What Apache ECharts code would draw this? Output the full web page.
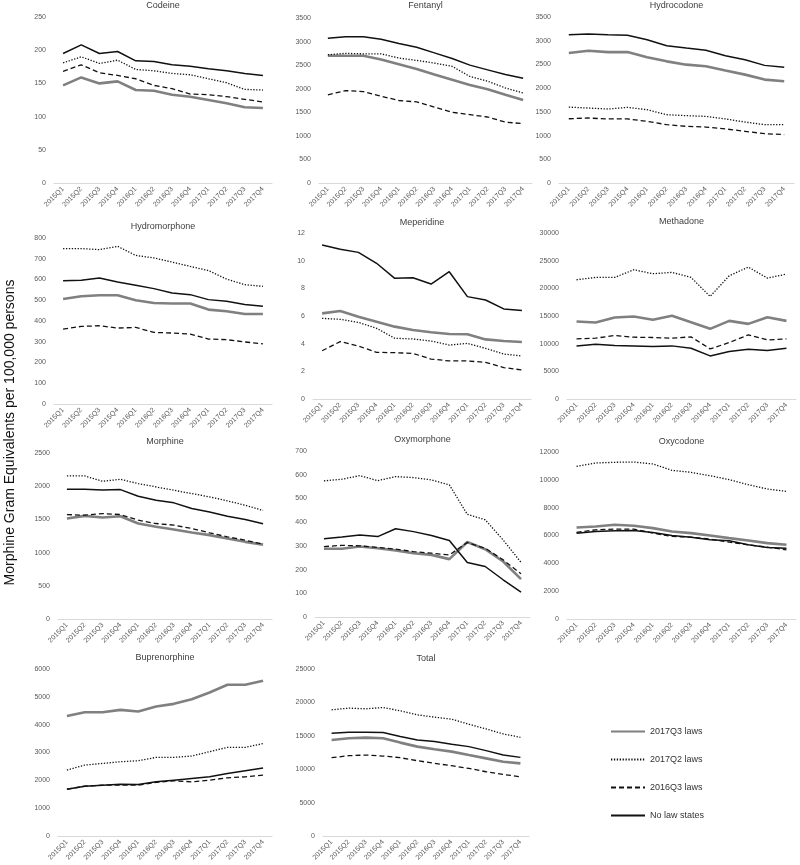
<!DOCTYPE html>
<html>
<head>
<meta charset="utf-8">
<script src="https://cdn.jsdelivr.net/npm/echarts@6/dist/echarts.min.js"></script>
<style>html,body{margin:0;padding:0;background:#fff}#c{width:800px;height:865px}</style>
</head>
<body>
<div id="c"></div>
<script>
const quarters = ['2015Q1','2015Q2','2015Q3','2015Q4','2016Q1','2016Q2','2016Q3','2016Q4','2017Q1','2017Q2','2017Q3','2017Q4'];
const seriesNames = ['2017Q3 laws','2017Q2 laws','2016Q3 laws','No law states'];
const yAxisTitle = 'Morphine Gram Equivalents per 100,000 persons';

const codeineQ3 = [147,159,150,153,140,139,133,130,125,120,114,113];
const codeineQ2 = [181,190,180,185,171,169,165,163,157,151,141,140];
const codeine16 = [168,178,166,162,157,147,142,134,133,130,126,122];
const codeineNo = [195,208,195,198,184,183,178,176,172,169,165,162];

const fentanylQ3 = [2700,2700,2700,2620,2520,2420,2300,2190,2080,1990,1870,1760];
const fentanylQ2 = [2720,2750,2740,2740,2650,2600,2545,2475,2260,2160,2015,1910];
const fentanyl16 = [1870,1960,1940,1840,1750,1720,1610,1500,1450,1400,1290,1260];
const fentanylNo = [3070,3100,3100,3050,2960,2880,2760,2640,2500,2400,2300,2220];

const hydrocodoneQ3 = [2740,2790,2760,2760,2650,2565,2495,2460,2370,2285,2180,2145];
const hydrocodoneQ2 = [1600,1580,1560,1595,1545,1440,1420,1405,1350,1285,1230,1230];
const hydrocodone16 = [1355,1370,1350,1350,1300,1230,1195,1180,1140,1090,1040,1020];
const hydrocodoneNo = [3125,3140,3125,3115,3020,2895,2845,2800,2685,2600,2480,2440];

const hydromorphoneQ3 = [506,519,524,524,500,487,484,484,455,447,434,434];
const hydromorphoneQ2 = [749,749,744,760,716,704,684,663,643,602,575,567];
const hydromorphone16 = [361,374,377,366,369,345,342,337,313,310,299,290];
const hydromorphoneNo = [594,596,607,588,572,556,535,527,503,495,479,471];

const meperidineQ3 = [6.19,6.36,5.95,5.59,5.23,4.99,4.82,4.70,4.68,4.31,4.19,4.12];
const meperidineQ2 = [5.83,5.76,5.54,5.11,4.39,4.34,4.19,3.90,4.02,3.66,3.25,3.11];
const meperidine16 = [3.49,4.15,3.83,3.37,3.35,3.30,2.89,2.75,2.75,2.65,2.27,2.10];
const meperidineNo = [11.13,10.82,10.60,9.81,8.72,8.77,8.31,9.20,7.40,7.16,6.51,6.39];

const methadoneQ3 = [14000,13820,14730,14910,14310,15030,13880,12680,14120,13580,14790,14120];
const methadoneQ2 = [21550,21970,21970,23360,22640,22880,21970,18530,22270,23840,21850,22570];
const methadone16 = [10860,10990,11470,11170,11110,10990,11230,9050,10200,11590,10680,10860];
const methadoneNo = [9600,9900,9660,9600,9480,9600,9180,7790,8570,8990,8750,9180];

const morphineQ3 = [1513,1553,1528,1548,1438,1388,1348,1303,1263,1212,1162,1120];
const morphineQ2 = [2154,2154,2074,2104,2039,1989,1939,1889,1839,1779,1713,1635];
const morphine16 = [1573,1563,1588,1573,1488,1438,1413,1363,1298,1237,1187,1125];
const morphineNo = [1954,1954,1944,1949,1849,1789,1749,1663,1613,1548,1498,1435];

const oxymorphoneQ3 = [288,288,297,290,281,269,262,244,316,286,234,160];
const oxymorphoneQ2 = [574,581,596,575,592,588,578,557,433,410,325,230];
const oxymorphone16 = [297,302,300,293,286,276,269,262,314,290,241,182];
const oxymorphoneNo = [330,337,346,339,372,360,344,323,230,213,157,105];

const oxycodoneQ3 = [6580,6650,6770,6700,6530,6290,6170,6000,5810,5640,5450,5330];
const oxycodoneQ2 = [10970,11210,11260,11280,11140,10680,10540,10300,10010,9650,9340,9170];
const oxycodone16 = [6220,6410,6460,6460,6170,5930,5880,5740,5520,5330,5160,4970];
const oxycodoneNo = [6170,6290,6340,6360,6220,6000,5880,5690,5620,5330,5140,5090];

const buprenorphineQ3 = [4315,4447,4447,4531,4471,4652,4748,4916,5157,5433,5433,5580];
const buprenorphineQ2 = [2368,2548,2608,2668,2705,2825,2825,2873,3029,3185,3185,3320];
const buprenorphine16 = [1683,1791,1827,1827,1827,1923,1983,1947,2007,2091,2127,2190];
const buprenorphineNo = [1683,1791,1827,1863,1851,1947,2007,2067,2127,2248,2344,2440];

const totalQ3 = [14380,14630,14730,14630,13980,13380,12980,12630,12120,11620,11120,10870];
const totalQ2 = [18890,19140,19040,19240,18740,18140,17790,17490,16730,16030,15280,14780];
const total16 = [11720,12020,12120,11970,11720,11270,10870,10520,10120,9620,9220,8870];
const totalNo = [15380,15530,15530,15480,14880,14380,14130,13730,13380,12780,12120,11770];

const panelTitles = ['Codeine','Fentanyl','Hydrocodone','Hydromorphone','Meperidine','Methadone','Morphine','Oxymorphone','Oxycodone','Buprenorphine','Total'];
const panelMax = [250,3500,3500,800,12,30000,2500,700,12000,6000,25000];
const panelInterval = [50,500,500,100,2,5000,500,100,2000,1000,5000];
const panelData = [
  [codeineQ3,codeineQ2,codeine16,codeineNo],
  [fentanylQ3,fentanylQ2,fentanyl16,fentanylNo],
  [hydrocodoneQ3,hydrocodoneQ2,hydrocodone16,hydrocodoneNo],
  [hydromorphoneQ3,hydromorphoneQ2,hydromorphone16,hydromorphoneNo],
  [meperidineQ3,meperidineQ2,meperidine16,meperidineNo],
  [methadoneQ3,methadoneQ2,methadone16,methadoneNo],
  [morphineQ3,morphineQ2,morphine16,morphineNo],
  [oxymorphoneQ3,oxymorphoneQ2,oxymorphone16,oxymorphoneNo],
  [oxycodoneQ3,oxycodoneQ2,oxycodone16,oxycodoneNo],
  [buprenorphineQ3,buprenorphineQ2,buprenorphine16,buprenorphineNo],
  [totalQ3,totalQ2,total16,totalNo]
];

// layout (pixels)
const grids = [
  {left:54, top:17, width:218, height:166},
  {left:319, top:18, width:213, height:165},
  {left:559, top:17, width:235, height:166},
  {left:54, top:238, width:218, height:166},
  {left:313, top:233, width:218, height:166},
  {left:567, top:233, width:229, height:166},
  {left:58, top:453, width:214, height:166},
  {left:315, top:451, width:215, height:166},
  {left:567, top:452, width:229, height:167},
  {left:58, top:669, width:214, height:167},
  {left:323, top:669, width:206, height:167}
];
const titleY = [1,1,1,222,218,217,437,435,437,653,654];

const styles = [
  {color:'#808080', width:2.6, type:'solid'},
  {color:'#111', width:1.3, type:[1.3,1.6]},
  {color:'#111', width:1.3, type:[5,3]},
  {color:'#111', width:1.5, type:'solid'}
];

const FONT = 'Liberation Sans, Arial, sans-serif';
const option = {
  animation:false,
  backgroundColor:'#fff',
  textStyle:{fontFamily:FONT},
  title:[], grid:[], xAxis:[], yAxis:[], series:[],
  legend:{
    data:seriesNames, orient:'vertical', left:605, top:722,
    itemWidth:34, itemHeight:10, itemGap:19,
    itemStyle:{opacity:0},
    textStyle:{fontSize:9, color:'#333', fontFamily:FONT},
    selectedMode:false
  },
  graphic:[{
    type:'text', left:3, top:'center', rotation:Math.PI/2,
    style:{text:yAxisTitle, font:'14px '+FONT, fill:'#111'}
  }]
};

grids.forEach((g,i)=>{
  option.grid.push(Object.assign({containLabel:false}, g));
  option.title.push({
    text:panelTitles[i], left:g.left + g.width/2, top:titleY[i], textAlign:'center', padding:0,
    textStyle:{fontSize:9, fontWeight:'normal', color:'#404040', fontFamily:FONT}
  });
  option.xAxis.push({
    type:'category', gridIndex:i, data:quarters, boundaryGap:true,
    axisLine:{lineStyle:{color:'#d9d9d9'}}, axisTick:{show:false},
    axisLabel:{rotate:45, interval:0, fontSize:7, color:'#595959', margin:5, fontFamily:FONT}
  });
  option.yAxis.push({
    type:'value', gridIndex:i, min:0, max:panelMax[i], interval:panelInterval[i],
    splitLine:{show:false}, axisLine:{show:false}, axisTick:{show:false},
    axisLabel:{fontSize:7, color:'#595959', margin:8, fontFamily:FONT, formatter:(v)=>String(v)}
  });
  panelData[i].forEach((arr,k)=>{
    option.series.push({
      type:'line', name:seriesNames[k], xAxisIndex:i, yAxisIndex:i, data:arr,
      symbol:'none', z: k===0?2:3,
      itemStyle:{color:styles[k].color},
      lineStyle:{color:styles[k].color, width:styles[k].width, type:styles[k].type}
    });
  });
});

const chart = echarts.init(document.getElementById('c'), null, {renderer:'canvas'});
chart.setOption(option);
</script>
</body>
</html>
